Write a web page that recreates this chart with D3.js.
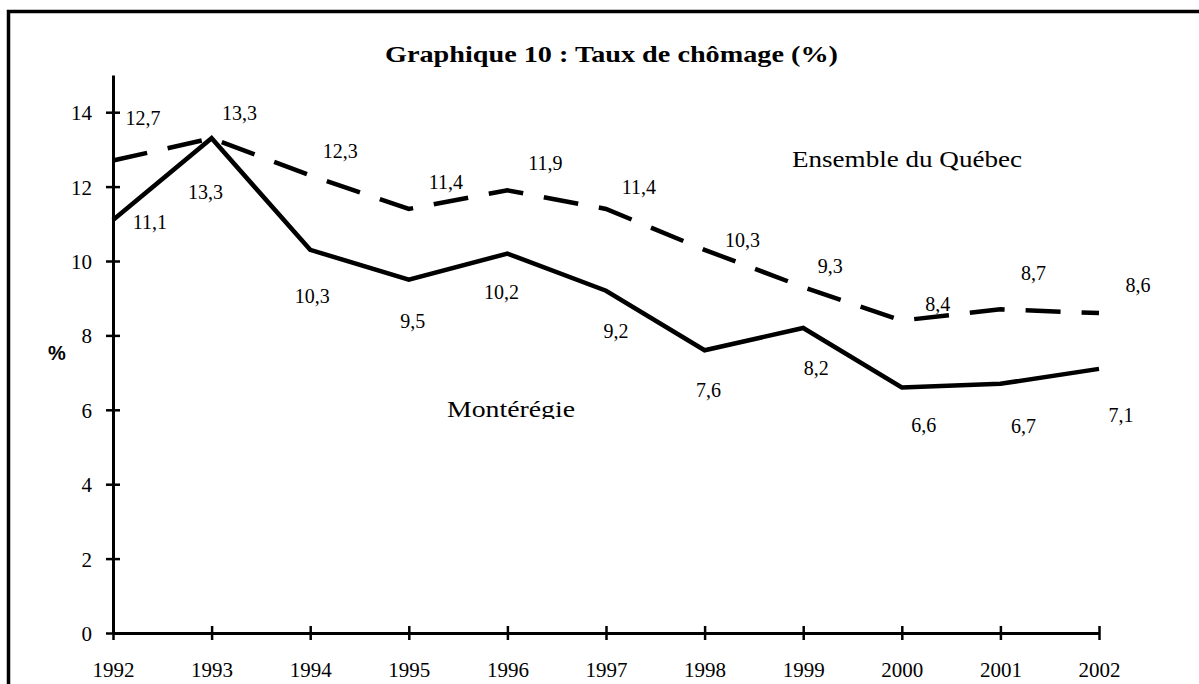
<!DOCTYPE html>
<html>
<head>
<meta charset="utf-8">
<script src="https://cdnjs.cloudflare.com/ajax/libs/d3/7.8.5/d3.min.js"></script>
<style>
  html, body { margin: 0; padding: 0; background: #fff; }
  svg { display: block; }
  svg text { font-family: "Liberation Serif", "Times New Roman", Times, serif; fill: #000; }
  svg text.sans { font-family: "Liberation Sans", Arial, Helvetica, sans-serif; }
</style>
</head>
<body>
<script>
// Graphique 10 : Taux de chômage (%)
var years = [1992, 1993, 1994, 1995, 1996, 1997, 1998, 1999, 2000, 2001, 2002],
	quebec = [12.7, 13.3, 12.3, 11.4, 11.9, 11.4, 10.3, 9.3, 8.4, 8.7, 8.6],
	monteregie = [11.1, 13.3, 10.3, 9.5, 10.2, 9.2, 7.6, 8.2, 6.6, 6.7, 7.1],
	yTicks = [0, 2, 4, 6, 8, 10, 12, 14];

// label nudges (px) from each point, as placed in the original
var qOff = [[30, -36], [28, -18], [30, -17], [37, -20], [38, -20], [33, -15], [38, -3], [27, -14], [36, -10], [33, -29], [39, -21]],
	mOff = [[37, 9], [-6, 61], [2, 53], [4, 48], [-6, 45], [10, 47], [4, 47], [13, 47], [22, 45], [23, 49], [22, 53]];

var w = 1199, h = 684,
	x0 = 113, x1 = 1099,
	y0 = 633, yTop = 75;

var fmt = function(v) { return String(v).replace(".", ","); };

var svg = d3.select("body")
	.append("svg")
	.attr("width", w)
	.attr("height", h);

// outer frame (runs off right and bottom)
svg.append("rect")
	.attr("x", 8.5)
	.attr("y", 11.5)
	.attr("width", 1400)
	.attr("height", 900)
	.attr("fill", "none")
	.attr("stroke", "#000")
	.attr("stroke-width", 3.5);

var x = d3.scaleLinear().domain([1992, 2002]).range([x0, x1]),
	y = d3.scaleLinear().domain([0, 15]).range([y0, yTop]);

// y axis
var yAxis = svg.append("g")
	.attr("transform", "translate(" + x0 + ",0)")
	.call(d3.axisLeft(y).tickValues(yTicks).tickSize(7).tickSizeOuter(0).tickPadding(14));

yAxis.select(".domain").attr("stroke-width", 3);
yAxis.selectAll(".tick line").attr("x1", 7).attr("stroke-width", 2.5);
yAxis.selectAll(".tick text")
	.attr("font-size", 21)
	.attr("dy", "0.36em");

// x axis
var xAxis = svg.append("g")
	.attr("transform", "translate(0," + y0 + ")")
	.call(d3.axisBottom(x).tickValues(years).tickFormat(d3.format("d")).tickSize(7).tickSizeOuter(0));

xAxis.select(".domain").attr("stroke-width", 3);
xAxis.selectAll(".tick line").attr("y1", -7).attr("stroke-width", 2.5);
xAxis.selectAll(".tick text")
	.attr("font-size", 21)
	.attr("y", 44)
	.attr("dy", 0);

// lines
var line = d3.line()
	.x(function(d, i) { return x(years[i]); })
	.y(function(d) { return y(d); });

svg.append("path")
	.datum(quebec)
	.attr("d", line)
	.attr("fill", "none")
	.attr("stroke", "#000")
	.attr("stroke-width", 4.5)
	.attr("stroke-dasharray", "35,21");

svg.append("path")
	.datum(monteregie)
	.attr("d", line)
	.attr("fill", "none")
	.attr("stroke", "#000")
	.attr("stroke-width", 4.5)
	.attr("stroke-linejoin", "miter");

// value labels
svg.selectAll(".qlab")
	.data(quebec)
	.enter()
	.append("text")
	.attr("class", "qlab")
	.attr("font-size", 20)
	.attr("text-anchor", "middle")
	.attr("x", function(d, i) { return x(years[i]) + qOff[i][0]; })
	.attr("y", function(d, i) { return y(d) + qOff[i][1]; })
	.text(fmt);

svg.selectAll(".mlab")
	.data(monteregie)
	.enter()
	.append("text")
	.attr("class", "mlab")
	.attr("font-size", 20)
	.attr("text-anchor", "middle")
	.attr("x", function(d, i) { return x(years[i]) + mOff[i][0]; })
	.attr("y", function(d, i) { return y(d) + mOff[i][1]; })
	.text(fmt);

// series names
svg.append("text")
	.attr("x", 792)
	.attr("y", 167)
	.attr("font-size", 23)
	.attr("textLength", 230)
	.attr("lengthAdjust", "spacingAndGlyphs")
	.text("Ensemble du Québec");

svg.append("clipPath")
	.attr("id", "cutM")
	.append("rect")
	.attr("x", 400).attr("y", 380).attr("width", 240).attr("height", 39);

svg.append("text")
	.attr("x", 447)
	.attr("y", 417)
	.attr("font-size", 24)
	.attr("textLength", 128)
	.attr("lengthAdjust", "spacingAndGlyphs")
	.attr("clip-path", "url(#cutM)")
	.text("Montérégie");

// title
svg.append("text")
	.attr("x", 385)
	.attr("y", 62)
	.attr("font-size", 23)
	.attr("font-weight", "bold")
	.attr("textLength", 453)
	.attr("lengthAdjust", "spacingAndGlyphs")
	.text("Graphique 10 : Taux de chômage (%)");

// y unit
svg.append("text")
	.attr("class", "sans")
	.attr("x", 57)
	.attr("y", 360)
	.attr("text-anchor", "middle")
	.attr("font-size", 20)
	.attr("font-weight", "bold")
	.text("%");
</script>
</body>
</html>
